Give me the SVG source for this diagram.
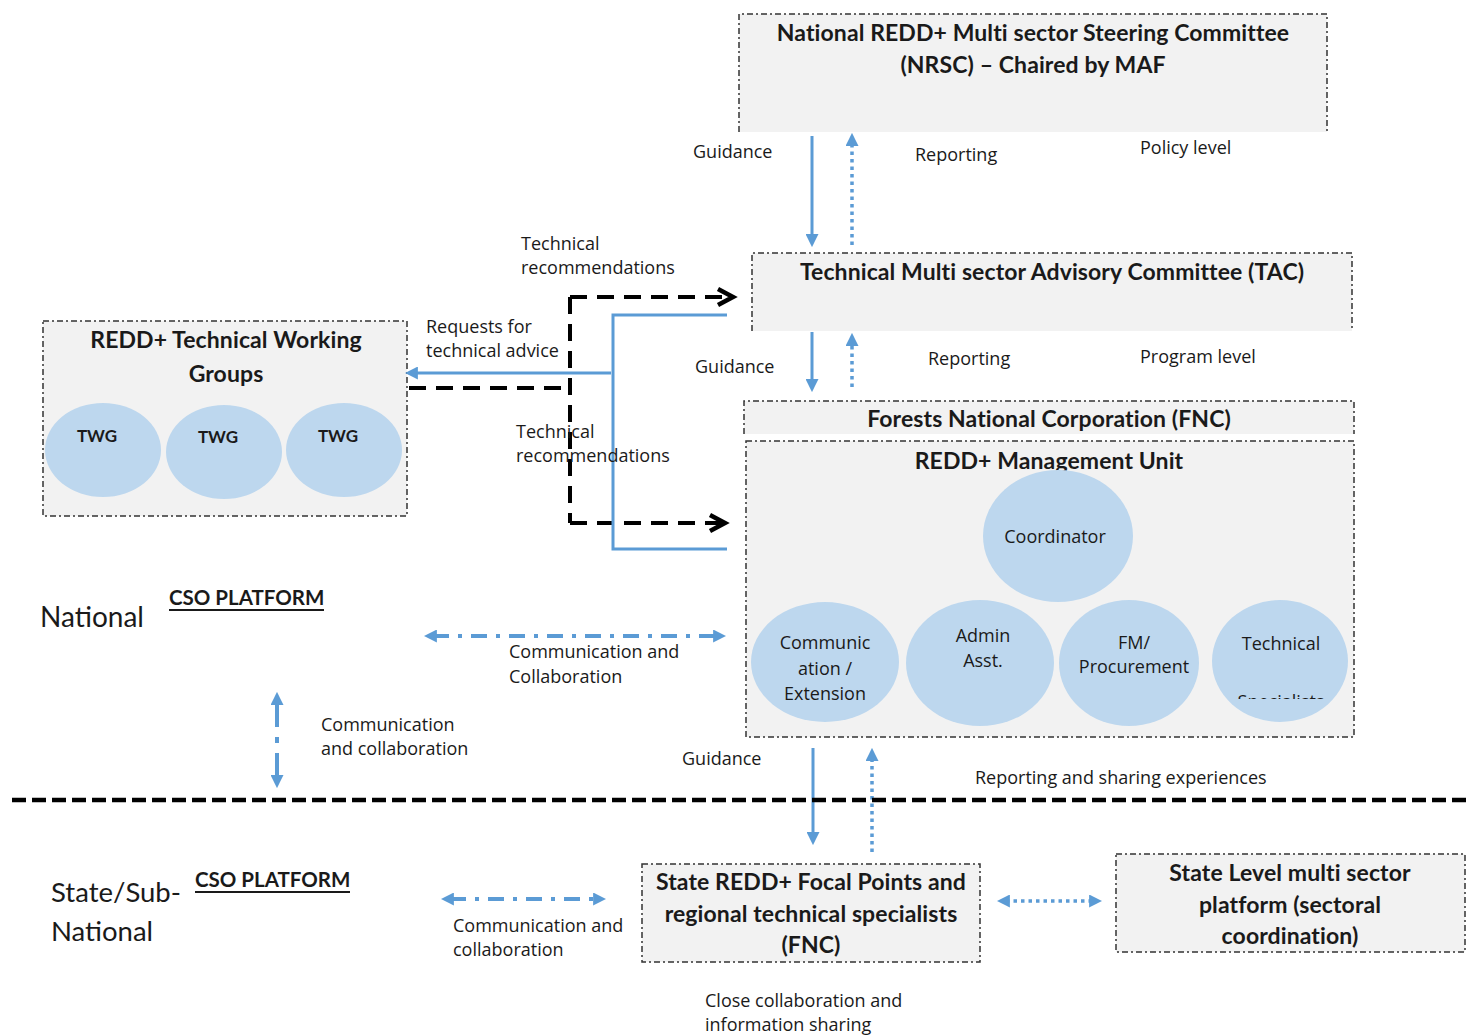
<svg xmlns="http://www.w3.org/2000/svg" width="1466" height="1035" viewBox="0 0 1466 1035">
<style>
.box{fill:#f2f2f2;stroke:none}
.bd{fill:none;stroke:#333;stroke-width:1.5;stroke-dasharray:6 3 2 3}
.t{font-family:Lato,"Open Sans","Liberation Sans",sans-serif;fill:#1a1a1a}
.o{font-family:"Open Sans",Lato,"Liberation Sans",sans-serif;fill:#1a1a1a}
.b{font-weight:bold}
.lbl{font-size:18px}
.ttl{font-size:23px;font-weight:bold;text-anchor:middle;letter-spacing:0.1px}
.circ{fill:#bdd7ee}
.ct{font-size:18px;text-anchor:middle}
.blue{stroke:#5b9bd5;stroke-width:3;fill:none}
.dot{stroke:#5b9bd5;stroke-width:3.5;fill:none;stroke-dasharray:3.5 4}
.dd{stroke:#5b9bd5;stroke-width:4;fill:none;stroke-dasharray:16 9 4 9}
.blk{stroke:#000;stroke-width:4;fill:none;stroke-dasharray:17 10}
</style>
<defs>
<marker id="ah" viewBox="0 0 10 10" refX="3" refY="5" markerWidth="13" markerHeight="13" markerUnits="userSpaceOnUse" orient="auto-start-reverse">
<path d="M0,0 L10,5 L0,10 z" fill="#5b9bd5"/>
</marker>
<clipPath id="clipSpec"><rect x="1200" y="600" width="160" height="99"/></clipPath>
</defs>
<rect width="1466" height="1035" fill="#fff"/>

<g id="nrsc">
<rect class="box" x="739" y="14" width="588" height="118"/>
<path class="bd" d="M739,132 V14 H1327 V132"/>
<text class="t ttl" x="1033" y="41">National REDD+ Multi sector Steering Committee</text>
<text class="t ttl" x="1033" y="73">(NRSC) – Chaired by MAF</text>
</g>

<g id="tac">
<rect class="box" x="752" y="253" width="600" height="78"/>
<path class="bd" d="M752,331 V253 H1352 V331"/>
<text class="t ttl" x="1052" y="280">Technical Multi sector Advisory Committee (TAC)</text>
</g>

<g id="fnc">
<rect class="box" x="744" y="401" width="610" height="33"/>
<path class="bd" d="M744,434 V401 H1354 V434"/>
<text class="t ttl" x="1049" y="427">Forests National Corporation (FNC)</text>
</g>

<g id="mu">
<rect class="box" x="746" y="441" width="608" height="296"/>
<rect class="bd" x="746" y="441" width="608" height="296"/>
<text class="t ttl" x="1049" y="469">REDD+ Management Unit</text>
</g>
<g id="coordinator">
<ellipse class="circ" cx="1058" cy="536" rx="75" ry="66"/>
<text class="o ct" x="1055" y="543">Coordinator</text>
</g>
<g id="communication">
<ellipse class="circ" cx="825" cy="662" rx="74" ry="60"/>
<text class="o ct" x="825" y="649">Communic</text>
<text class="o ct" x="825" y="675">ation /</text>
<text class="o ct" x="825" y="700">Extension</text>
</g>
<g id="admin">
<ellipse class="circ" cx="980" cy="663" rx="74" ry="63"/>
<text class="o ct" x="983" y="642">Admin</text>
<text class="o ct" x="983" y="667">Asst.</text>
</g>
<g id="fm">
<ellipse class="circ" cx="1129" cy="663" rx="70" ry="63"/>
<text class="o ct" x="1134" y="649">FM/</text>
<text class="o ct" x="1134" y="673">Procurement</text>
</g>
<g id="technical">
<ellipse class="circ" cx="1280" cy="661" rx="68" ry="61"/>
<text class="o ct" x="1281" y="650">Technical</text>
<text class="o ct" x="1281" y="708" clip-path="url(#clipSpec)">Specialists</text>
</g>

<g id="twg">
<rect class="box" x="43" y="321" width="364" height="195"/>
<rect class="bd" x="43" y="321" width="364" height="195"/>
<text class="t ttl" x="226" y="348">REDD+ Technical Working</text>
<text class="t ttl" x="226" y="382">Groups</text>
<ellipse class="circ" cx="103" cy="450" rx="58" ry="47"/>
<ellipse class="circ" cx="224" cy="452" rx="58" ry="47"/>
<ellipse class="circ" cx="344" cy="450" rx="58" ry="47"/>
<text class="t b" font-size="17" x="97" y="442" text-anchor="middle">TWG</text>
<text class="t b" font-size="17" x="218" y="443" text-anchor="middle">TWG</text>
<text class="t b" font-size="17" x="338" y="442" text-anchor="middle">TWG</text>
</g>

<g id="state">
<rect class="box" x="642" y="864" width="338" height="98"/>
<rect class="bd" x="642" y="864" width="338" height="98"/>
<text class="t ttl" x="811" y="890">State REDD+ Focal Points and</text>
<text class="t ttl" x="811" y="922">regional technical specialists</text>
<text class="t ttl" x="811" y="953">(FNC)</text>
</g>

<g id="statelevel">
<rect class="box" x="1116" y="854" width="349" height="98"/>
<rect class="bd" x="1116" y="854" width="349" height="98"/>
<text class="t ttl" x="1290" y="881">State Level multi sector</text>
<text class="t ttl" x="1290" y="913">platform (sectoral</text>
<text class="t ttl" x="1290" y="944">coordination)</text>
</g>

<g id="connectors">
<line class="blue" x1="812" y1="136" x2="812" y2="238" marker-end="url(#ah)"/>
<line class="dot" x1="852" y1="245" x2="852" y2="142" marker-end="url(#ah)"/>
<line class="blue" x1="812" y1="332" x2="812" y2="383" marker-end="url(#ah)"/>
<line class="dot" x1="852" y1="387" x2="852" y2="342" marker-end="url(#ah)"/>
<line class="blue" x1="813" y1="748" x2="813" y2="836" marker-end="url(#ah)"/>
<line class="dot" x1="872" y1="852" x2="872" y2="757" marker-end="url(#ah)"/>

<path class="blk" d="M409,388 H570"/>
<path class="blk" d="M570,297 V523"/>
<path class="blk" d="M570,297 H730"/>
<path class="blk" d="M570,523 H722"/>
<polyline points="718,289 733,297 718,305" fill="none" stroke="#000" stroke-width="4.5"/>
<polyline points="710,515 725,523 710,531" fill="none" stroke="#000" stroke-width="4.5"/>

<path class="blue" d="M727,315 H613 V549 H727"/>
<line class="blue" x1="611" y1="373" x2="414" y2="373" marker-end="url(#ah)"/>

<line class="dd" x1="433" y1="636" x2="717" y2="636" marker-start="url(#ah)" marker-end="url(#ah)"/>
<line class="dd" x1="277" y1="701" x2="277" y2="779" marker-start="url(#ah)" marker-end="url(#ah)" style="stroke-dasharray:26 10 6 10"/>
<line class="dd" x1="450" y1="899" x2="597" y2="899" marker-start="url(#ah)" marker-end="url(#ah)"/>
<line class="dot" x1="1006" y1="901" x2="1093" y2="901" marker-start="url(#ah)" marker-end="url(#ah)"/>

<line x1="12" y1="800" x2="1466" y2="800" stroke="#000" stroke-width="4.5" stroke-dasharray="14 6"/>
</g>

<g id="labels">
<text class="o lbl" x="693" y="158">Guidance</text>
<text class="o lbl" x="915" y="161">Reporting</text>
<text class="o lbl" x="1140" y="154">Policy level</text>
<text class="o lbl" x="695" y="373">Guidance</text>
<text class="o lbl" x="928" y="365">Reporting</text>
<text class="o lbl" x="1140" y="363">Program level</text>
<text class="o lbl" x="521" y="250">Technical</text>
<text class="o lbl" x="521" y="274">recommendations</text>
<text class="o lbl" x="426" y="333">Requests for</text>
<text class="o lbl" x="426" y="357">technical advice</text>
<text class="o lbl" x="516" y="438">Technical</text>
<text class="o lbl" x="516" y="462">recommendations</text>
<text class="t" font-size="28" x="40" y="627">National</text>
<text class="t b" font-size="20.5" x="169" y="605">CSO PLATFORM</text>
<line x1="169" y1="610" x2="324" y2="610" stroke="#1a1a1a" stroke-width="2"/>
<text class="o lbl" x="509" y="658">Communication and</text>
<text class="o lbl" x="509" y="683">Collaboration</text>
<text class="o lbl" x="321" y="731">Communication</text>
<text class="o lbl" x="321" y="755">and collaboration</text>
<text class="o lbl" x="682" y="765">Guidance</text>
<text class="o lbl" x="975" y="784">Reporting and sharing experiences</text>
<text class="t" font-size="27.5" x="51" y="902">State/Sub-</text>
<text class="t" font-size="27.5" x="51" y="941">National</text>
<text class="t b" font-size="20.5" x="195" y="887">CSO PLATFORM</text>
<line x1="195" y1="892" x2="350" y2="892" stroke="#1a1a1a" stroke-width="2"/>
<text class="o lbl" x="453" y="932">Communication and</text>
<text class="o lbl" x="453" y="956">collaboration</text>
<text class="o lbl" x="705" y="1007">Close collaboration and</text>
<text class="o lbl" x="705" y="1031">information sharing</text>
</g>
</svg>
